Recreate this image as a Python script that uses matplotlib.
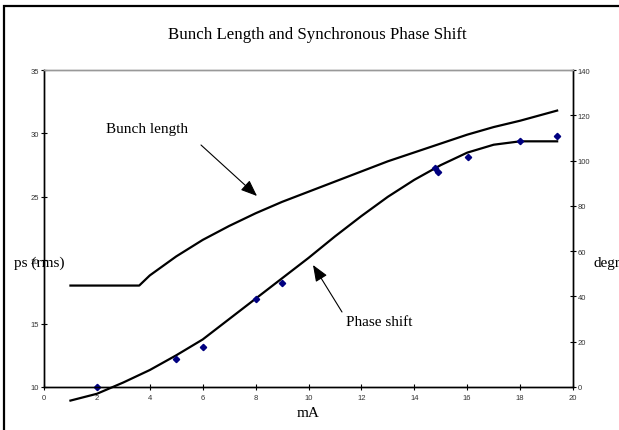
import matplotlib
matplotlib.use("Agg")
import matplotlib.pyplot as plt
from matplotlib.patches import Rectangle

# Data
bunch_x = [1, 3.6, 4, 5, 6, 7, 8, 9, 10, 11, 12, 13, 14, 15, 16, 17, 18, 19.4]
bunch_y = [18, 18, 18.8, 20.3, 21.6, 22.7, 23.7, 24.6, 25.4, 26.2, 27.0, 27.8, 28.5, 29.2, 29.9, 30.5, 31.0, 31.8]

phase_x = [1, 2, 2.6, 3, 4, 5, 6, 7, 8, 9, 10, 11, 12, 13, 14, 15, 16, 17, 18, 19.4]
phase_y = [-6, -3, 0, 2, 7.5, 14, 21, 30, 39, 48, 57, 66.5, 75.5, 84, 91.5, 98, 103.5, 107, 108.5, 108.5]

meas_x = [2, 5, 6, 8, 9, 14.78, 14.91, 16.02, 18.0, 19.38]
meas_y = [0, 12.4, 17.7, 38.9, 45.9, 96.6, 94.8, 101.7, 108.8, 110.7]

xticks = list(range(0, 21, 2))
yticks_left = list(range(10, 36, 5))
yticks_right = list(range(0, 141, 20))

W, H = 619, 431
fig = plt.figure(figsize=(W / 100, H / 100), dpi=100)

def fx(px):
    return px / W

def fy(py):
    return 1 - py / H

left, right, top, bottom = 44, 573, 71, 388
ax = fig.add_axes([fx(left), fy(bottom), fx(right) - fx(left), fy(top) - fy(bottom)])
ax2 = ax.twinx()

serif = "Liberation Serif"
sans = "Liberation Sans"
tick_color = "#333333"

ax.plot(bunch_x, bunch_y, color="black", lw=1.6, solid_joinstyle="round")
ax.set_xlim(0, 20)
ax.set_ylim(10, 35)
ax.set_xticks(xticks)
ax.set_yticks(yticks_left)

ax2.plot(phase_x, phase_y, color="black", lw=1.6, clip_on=False, solid_joinstyle="round")
ax2.plot(meas_x, meas_y, linestyle="none", marker="D", color="#000080", markersize=3.2, clip_on=False)
ax2.set_ylim(0, 140)
ax2.set_yticks(yticks_right)

for a in (ax, ax2):
    a.tick_params(direction="inout", length=4, width=0.8, labelsize=5.5,
                  labelcolor=tick_color, pad=1.5)
    for lab in a.get_xticklabels() + a.get_yticklabels():
        lab.set_fontfamily(sans)
    a.spines["top"].set_color("#999999")
    a.spines["top"].set_linewidth(1.0)
    for s in ("left", "right", "bottom"):
        a.spines[s].set_color("black")
        a.spines[s].set_linewidth(1.0)
ax.tick_params(axis="x", pad=3)

# Title and labels
fig.text(fx(317), fy(35), "Bunch Length and Synchronous Phase Shift", ha="center", va="center",
         fontsize=12.2, family=serif)
fig.text(fx(308), fy(414), "mA", ha="center", va="center", fontsize=11, family=serif)
fig.text(fx(14), fy(263), "ps (rms)", ha="left", va="center", fontsize=11, family=serif)
fig.text(fx(593), fy(263), "degrees", ha="left", va="center", fontsize=11, family=serif)

# Annotations
arrowprops = dict(arrowstyle="-|>,head_length=1.0,head_width=0.4", color="black", lw=0.8,
                  shrinkA=0, shrinkB=0)
fig.text(fx(106), fy(130), "Bunch length", ha="left", va="center", fontsize=11, family=serif)
ax.annotate("", xy=(fx(257), fy(197)), xytext=(fx(201), fy(146)),
            xycoords="figure fraction", textcoords="figure fraction", arrowprops=arrowprops)
fig.text(fx(346), fy(323), "Phase shift", ha="left", va="center", fontsize=11, family=serif)
ax.annotate("", xy=(fx(313), fy(266)), xytext=(fx(342), fy(313)),
            xycoords="figure fraction", textcoords="figure fraction", arrowprops=arrowprops)

# Chart-area frame (partly cut off by image edge)
frame = Rectangle((fx(4), -0.1), 1.2, fy(7) + 0.1, transform=fig.transFigure,
                  fill=False, edgecolor="black", lw=1.6, clip_on=False)
fig.patches.append(frame)

fig.savefig("out.png", dpi=100)
